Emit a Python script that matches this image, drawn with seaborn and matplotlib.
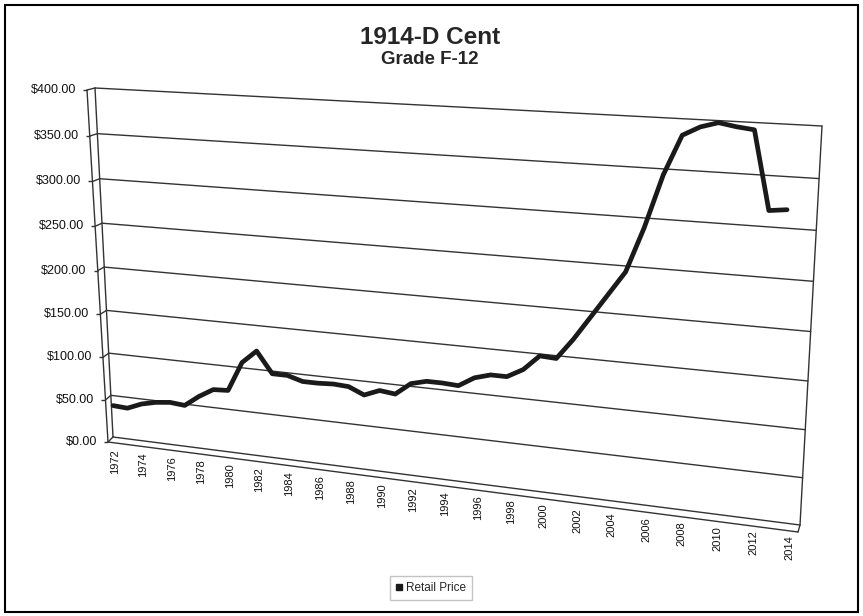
import numpy as np
import pandas as pd
import seaborn as sns
import matplotlib
matplotlib.use('Agg')
import matplotlib.pyplot as plt
from matplotlib.transforms import Transform, Affine2D
from matplotlib.lines import Line2D
from matplotlib.patches import Rectangle
from matplotlib.markers import TICKLEFT

# values
years = list(range(1972, 2015))
prices = [38, 37, 44, 48, 50, 48.5, 61, 71, 72, 106,
          121, 97, 97, 92, 92, 93, 92, 84.5, 91.5, 89.5,
          103, 107.5, 107.5, 106.5, 117, 122, 122, 131.5, 148, 147,
          169, 194, 219, 244, 290, 344, 384, 393, 398, 395,
          393, 316, 318]
value_ticks = [0, 50, 100, 150, 200, 250, 300, 350, 400]
value_labels = ['$0.00', '$50.00', '$100.00', '$150.00', '$200.00',
                '$250.00', '$300.00', '$350.00', '$400.00']
year_ticks = years[::2]

W, H = 863, 616
VMAX = 400.0


# Excel style 3D look: the back wall is a perspective quad
def quad(p00, p10, p11, p01):
    x0, y0 = p00
    x1, y1 = p10
    x2, y2 = p11
    x3, y3 = p01
    sx = x0 - x1 + x2 - x3
    sy = y0 - y1 + y2 - y3
    dx1, dx2 = x1 - x2, x3 - x2
    dy1, dy2 = y1 - y2, y3 - y2
    den = dx1 * dy2 - dx2 * dy1
    g = (sx * dy2 - dx2 * sy) / den
    h = (dx1 * sy - sx * dy1) / den
    a, b, c = x1 - x0 + g * x1, x3 - x0 + h * x3, x0
    d, e, f = y1 - y0 + g * y1, y3 - y0 + h * y3, y0

    def proj(s, w):
        q = 1 + g * s + h * w
        return (a * s + b * w + c) / q, (d * s + e * w + f) / q
    return proj


back = quad((113, 437), (800, 525), (822, 126), (95, 88))
left_depth = np.array([[-5.0, 5.0], [-8.0, 2.0]])   # bottom, top
floor_depth = np.array([[-5.0, 5.0], [-2.0, 7.0]])  # left, right


def series_s(year):
    n = np.asarray(year) - 1972
    return 0.0029 + 0.023682 * n - 1.936e-5 * n ** 2


def label_s(year):
    return 0.00335 + 0.023424 * (np.asarray(year) - 1972)


class Persp(Transform):
    input_dims = output_dims = 2
    is_separable = False
    has_inverse = False

    def __init__(self, func):
        super().__init__()
        self.func = func

    def transform_non_affine(self, values):
        v = np.asarray(values, float)
        pts = v.reshape(-1, 2)
        x, y = self.func(pts[:, 0], pts[:, 1])
        x = np.broadcast_to(x, pts[:, 0].shape)
        y = np.broadcast_to(y, pts[:, 0].shape)
        return np.column_stack([x, H - y]).reshape(v.shape)


def wall_fn(s, v):
    return back(s, v / VMAX)


def left_fn(z, v):
    w = v / VMAX
    x, y = back(0.0, w)
    dx = left_depth[0, 0] + w * (left_depth[1, 0] - left_depth[0, 0])
    dy = left_depth[0, 1] + w * (left_depth[1, 1] - left_depth[0, 1])
    return x + z * dx, y + z * dy


def floor_fn(s, z):
    x, y = back(s, 0.0)
    dx = floor_depth[0, 0] + s * (floor_depth[1, 0] - floor_depth[0, 0])
    dy = floor_depth[0, 1] + s * (floor_depth[1, 1] - floor_depth[0, 1])
    return x + z * dx, y + z * dy


wall_tr = Persp(wall_fn)
left_tr = Persp(left_fn)
floor_tr = Persp(floor_fn)
series_tr = Persp(lambda yr, v: back(series_s(yr), v / VMAX))
label_tr = Persp(lambda yr, v: back(label_s(yr), v / VMAX))

sns.set_style('white')
plt.rcParams['font.family'] = ['Liberation Sans', 'DejaVu Sans']

fig = plt.figure(figsize=(W / 100, H / 100), dpi=100)
ax = fig.add_axes([0, 0, 1, 1])

gc = '#333333'
glw = 1.0

# back wall: gridlines and side edges
for v in value_ticks:
    ax.plot([0, 1], [v, v], transform=wall_tr, color=gc, lw=glw)
ax.plot([0, 0], [0, VMAX], transform=wall_tr, color=gc, lw=glw)
ax.plot([1, 1], [0, VMAX], transform=wall_tr, color=gc, lw=glw)

# left wall
for v in value_ticks:
    ax.plot([0, 1], [v, v], transform=left_tr, color=gc, lw=glw)
ax.plot([1, 1], [0, VMAX], transform=left_tr, color=gc, lw=glw)
ax.plot([1] * len(value_ticks), value_ticks, ls='none', marker=TICKLEFT,
        ms=3, mew=1, color=gc, transform=left_tr)
for v, lab in zip(value_ticks, value_labels):
    ax.text(1, v, lab, transform=left_tr + Affine2D().translate(-11, 0),
            ha='right', va='center', fontsize=9, color='#111111')

# floor
ax.plot([0, 1], [1, 1], transform=floor_tr, color=gc, lw=glw)
ax.plot([1, 1], [0, 1], transform=floor_tr, color=gc, lw=glw)
for yr in year_ticks:
    ax.text(yr, 0, str(yr), transform=label_tr + Affine2D().translate(0, -11.5),
            rotation=90, ha='center', va='top', fontsize=8, color='#111111')

# the series
df = pd.DataFrame({'Year': years, 'Retail Price': prices})
sns.lineplot(data=df, x='Year', y='Retail Price', ax=ax, transform=series_tr,
             color='#1a1a1a', linewidth=3.4, errorbar=None, zorder=5)

ax.set_xlim(0, 1)
ax.set_ylim(0, 1)
ax.set_axis_off()

handle = Line2D([], [], marker='s', ls='none', color='#1a1a1a', markersize=4)
ax.legend(handles=[handle], labels=['Retail Price'], loc='center',
          bbox_to_anchor=(431 / W, 1 - 588 / H), frameon=True, fancybox=False,
          edgecolor='#b5b5b5', fontsize=8.5, handlelength=0.5, handletextpad=0.3,
          borderpad=0.5, borderaxespad=0)

fig.text(430 / W, 1 - 37 / H, '1914-D Cent', ha='center', va='center',
         fontsize=17.5, fontweight='bold')
fig.text(430 / W, 1 - 60 / H, 'Grade F-12', ha='center', va='center',
         fontsize=13.5, fontweight='bold')

fig.patches.append(Rectangle((5 / W, 4 / H), 853 / W, 607 / H, transform=fig.transFigure,
                             fill=False, lw=1.5, ec='black'))

fig.savefig('out.png', dpi=100)
